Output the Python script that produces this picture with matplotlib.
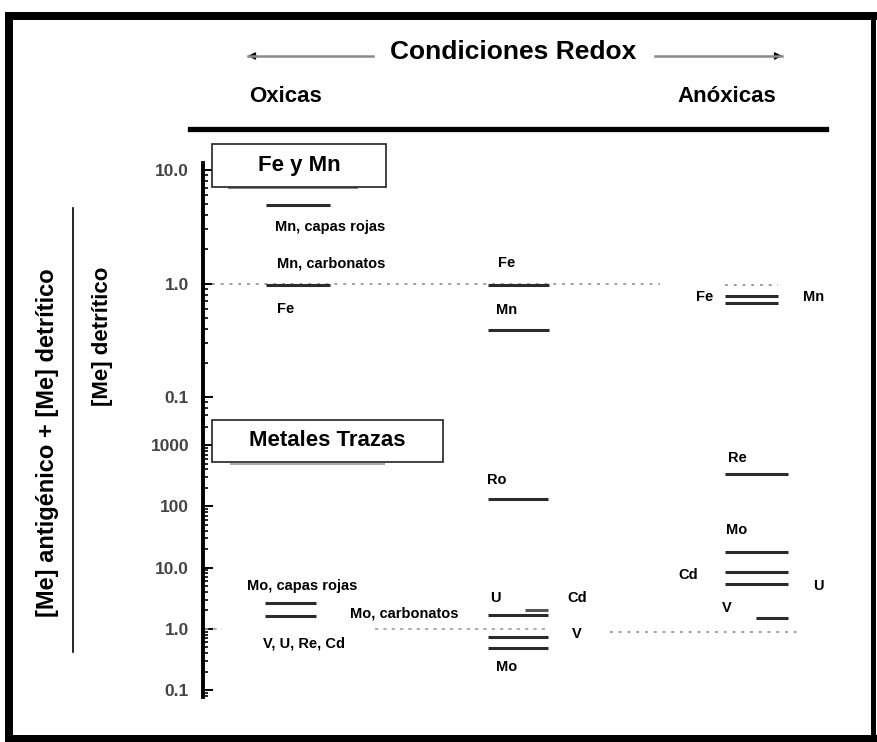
import numpy as np
import matplotlib
matplotlib.use("Agg")
import matplotlib.pyplot as plt
from matplotlib.patches import Rectangle, FancyArrowPatch
from matplotlib.lines import Line2D
from matplotlib.ticker import LogLocator, NullFormatter

W, H = 878, 742

# ---- datos: Fe y Mn ----
fm_oxic_vals = [4.9, 0.97]          # Mn capas rojas, Mn carbonatos / Fe
fm_mid_vals = [0.97, 0.39]          # Fe, Mn
fm_anox_vals = [0.78, 0.67]         # Fe, Mn
fm_shadow = [6.9]                   # linea bajo el recuadro
fm_ticks = [0.1, 1, 10]
fm_ticklabels = ["0.1", "1.0", "10.0"]

# ---- datos: metales trazas ----
tr_oxic_vals = [2.6, 1.63]          # Mo capas rojas, Mo carbonatos
tr_mid_vals = [130, 1.7, 0.74, 0.49]  # Ro, U, V, Mo
tr_mid_cd = [2.0]                   # Cd
tr_anox_vals = [335, 17.6, 8.6, 5.3]  # Re, Mo, Cd, U
tr_anox_v = [1.5]                   # V
tr_shadow = [500]
tr_ticks = [0.1, 1, 10, 100, 1000]
tr_ticklabels = ["0.1", "1.0", "10.0", "100", "1000"]

SANS = ["Liberation Sans", "DejaVu Sans"]
LC = "#2b2b2b"


def fx(px):
    return px / W


def fy(py):
    return 1 - py / H


fig = plt.figure(figsize=(W / 100, H / 100), dpi=100)
fig.patch.set_facecolor("white")


def ftext(x, y, s, size=10.5, **kw):
    fig.text(fx(x), fy(y), s, ha="center", va="center", fontsize=size,
             fontweight="bold", family=SANS, **kw)


def setup(ax, ylim, ticks, labels):
    ax.set_yscale("log")
    ax.set_ylim(*ylim)
    ax.set_xlim(203, 870)
    ax.set_yticks(ticks)
    ax.set_yticklabels(labels)
    ax.yaxis.set_minor_locator(LogLocator(base=10, subs=np.arange(2, 10)))
    ax.yaxis.set_minor_formatter(NullFormatter())
    ax.tick_params(axis="y", which="major", direction="in", length=7,
                   width=1.4, pad=10, labelsize=12.5, labelcolor="#444")
    ax.tick_params(axis="y", which="minor", direction="in", length=3.5,
                   width=1.2)
    for lab in ax.get_yticklabels():
        lab.set_fontweight("bold")
        lab.set_family(SANS)
    ax.set_xticks([])
    for s in ["top", "right", "bottom"]:
        ax.spines[s].set_visible(False)
    ax.spines["left"].set_linewidth(2.8)
    ax.patch.set_alpha(0)


ax_up = fig.add_axes([fx(203), fy(420), (870 - 203) / W, (420 - 163) / H])
ax_lo = fig.add_axes([fx(203), fy(697), (870 - 203) / W, (697 - 420) / H])
setup(ax_up, (0.063, 11.5), fm_ticks, fm_ticklabels)
setup(ax_lo, (0.0767, 2570), tr_ticks, tr_ticklabels)

# lineas de referencia punteadas
ax_up.hlines(1.0, 212, 660, color="#a0a0a0", lw=1.4, linestyle=(0, (1.5, 3)))
ax_up.hlines(0.98, 725, 778, color="#a0a0a0", lw=1.4, linestyle=(0, (1.5, 3)))
ax_lo.hlines(1.0, 205, 222, color="#a0a0a0", lw=1.2, linestyle=(0, (2, 3)))
ax_lo.hlines(1.0, 375, 548, color="#a0a0a0", lw=1.2, linestyle=(0, (2, 3)))
ax_lo.hlines(0.87, 610, 797, color="#a0a0a0", lw=1.4, linestyle=(0, (1.5, 3)))

# Fe y Mn
ax_up.hlines(fm_shadow, 228, 358, color="#888", lw=1.5)
ax_up.hlines(fm_oxic_vals, 266, 330, color=LC, lw=2.2)
ax_up.hlines(fm_mid_vals, 488, 549, color=LC, lw=2.2)
ax_up.hlines(fm_anox_vals, 725, 778, color=LC, lw=2.2)

# metales trazas
ax_lo.hlines(tr_shadow, 230, 385, color="#999", lw=1.2)
ax_lo.hlines(tr_oxic_vals, 265, 316, color=LC, lw=2.2)
ax_lo.hlines(tr_mid_vals, 488, 548, color=LC, lw=2.2)
ax_lo.hlines(tr_mid_cd, 525, 548, color="#555", lw=2.2)
ax_lo.hlines(tr_anox_vals, 725, 788, color=LC, lw=2.2)
ax_lo.hlines(tr_anox_v, 756, 788, color=LC, lw=2.2)

# recuadros
for (x0, y0, x1, y1, s, xc) in [(212, 144, 386, 187, "Fe y Mn", 299),
                                (212, 420, 443, 462, "Metales Trazas", 327)]:
    fig.add_artist(Rectangle((fx(x0), fy(y1)), (x1 - x0) / W, (y1 - y0) / H,
                             transform=fig.transFigure, facecolor="white",
                             edgecolor="#222", lw=1.2, zorder=5))
    fig.text(fx(xc), fy((y0 + y1) / 2), s, ha="center", va="center",
             fontsize=16, fontweight="bold", family=SANS, zorder=6)

# etiquetas Fe y Mn
ftext(330, 227, "Mn, capas rojas")
ftext(331, 264, "Mn, carbonatos")
ftext(286, 309, "Fe")
ftext(507, 263, "Fe")
ftext(507, 310, "Mn")
ftext(705, 297, "Fe")
ftext(814, 297, "Mn")

# etiquetas metales trazas
ftext(302, 586, "Mo, capas rojas")
ftext(404, 614, "Mo, carbonatos")
ftext(304, 644, "V, U, Re, Cd")
ftext(497, 480, "Ro")
ftext(495, 598, "U")
ftext(577, 598, "Cd")
ftext(577, 634, "V")
ftext(507, 667, "Mo")
ftext(737, 458, "Re")
ftext(737, 530, "Mo")
ftext(688, 575, "Cd")
ftext(818, 586, "U")
ftext(727, 608, "V")

# encabezado
ftext(513, 52, "Condiciones Redox", size=19)
ftext(286, 96, "Oxicas", size=16)
ftext(727, 96, "Anóxicas", size=16)
for (xa, xb) in [(373, 248), (655, 782)]:
    fig.add_artist(Line2D([fx(xa), fx(xb)], [fy(56), fy(56)],
                          transform=fig.transFigure, color="#8a8a8a", lw=1.8))
    d = 1 if xb > xa else -1
    fig.add_artist(FancyArrowPatch((fx(xb - 6 * d), fy(56)), (fx(xb + 3 * d), fy(56)),
                                   transform=fig.transFigure, arrowstyle="-|>",
                                   mutation_scale=11, color="black", lw=1))
fig.add_artist(Line2D([fx(190), fx(826)], [fy(129), fy(129)],
                      transform=fig.transFigure, color="black", lw=3.8))

# titulo del eje y
fig.text(fx(48), fy(443), "[Me] antigénico + [Me] detrítico", rotation=90,
         ha="center", va="center", fontsize=17, fontweight="bold", family=SANS)
fig.add_artist(Line2D([fx(73), fx(73)], [fy(208), fy(652)],
                      transform=fig.transFigure, color="black", lw=1.2))
fig.text(fx(103), fy(336), "[Me] detrítico", rotation=90,
         ha="center", va="center", fontsize=16, fontweight="bold", family=SANS)

# marco
for (x0, y0, x1, y1) in [(5, 12, 878, 20), (5, 12, 13, 742),
                         (5, 735, 878, 742), (871, 12, 876, 742)]:
    fig.add_artist(Rectangle((fx(x0), fy(y1)), (x1 - x0) / W, (y1 - y0) / H,
                             transform=fig.transFigure, facecolor="black",
                             edgecolor="none", zorder=10))

fig.savefig("out.png", dpi=100, facecolor="white")
